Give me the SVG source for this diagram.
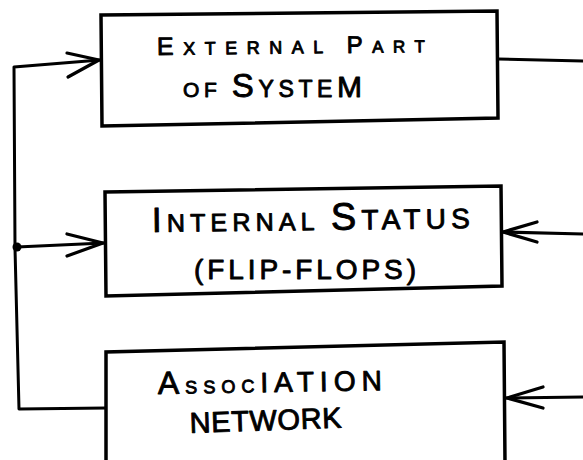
<svg xmlns="http://www.w3.org/2000/svg" width="583" height="460" viewBox="0 0 583 460">
  <style>
    .box { fill: #fff; stroke: #000; stroke-width: 3.5; stroke-linejoin: miter; }
    .wire { fill: none; stroke: #000; stroke-width: 3; stroke-linecap: round; stroke-linejoin: round; }
    .head { fill: none; stroke: #000; stroke-width: 3.2; stroke-linecap: round; stroke-linejoin: round; }
    .lbl { font-family: "Liberation Sans", "DejaVu Sans", sans-serif; fill: #000; stroke: #000; stroke-width: 0.9; stroke-linejoin: round; }
  </style>
  <rect width="583" height="460" fill="#fff"/>

  <!-- connectors: feedback loop on the left, inputs from the right -->
  <g id="connectors">
    <path class="wire" d="M498,59 L583,61"/>
    <path class="wire" d="M100,60 L14,67 L15,248 L19,409 L106,408"/>
    <path class="wire" d="M17,247 L104,243"/>
    <circle cx="17" cy="247" r="4.5" fill="#000"/>
    <path class="head" d="M67,53 L99,60 L68,77"/>
    <path class="head" d="M67,234 L103,243 L67,256"/>
    <path class="wire" d="M583,234 L503,232"/>
    <path class="head" d="M537,222 L503,232 L537,242"/>
    <path class="wire" d="M583,397 L506,398"/>
    <path class="head" d="M543,387 L507,398 L543,408"/>
  </g>

  <g id="external-part">
    <path class="box" d="M101,15 L497,11 L498,118 L102,126 Z"/>
    <text class="lbl" x="157" y="55" textLength="268" lengthAdjust="spacing" transform="rotate(-0.6 157 55)"><tspan font-size="25">E</tspan><tspan font-size="18">XTERNAL </tspan><tspan font-size="24">P</tspan><tspan font-size="17">ART</tspan></text>
    <text class="lbl" x="183" y="97" textLength="179" lengthAdjust="spacing"><tspan font-size="21">OF </tspan><tspan font-size="33">S</tspan><tspan font-size="23">YSTE</tspan><tspan font-size="30">M</tspan></text>
  </g>

  <g id="internal-status">
    <path class="box" d="M105,192 L501,186 L502,286 L106,296 Z"/>
    <text class="lbl" x="152" y="232" textLength="318" lengthAdjust="spacing" transform="rotate(-0.7 152 232)"><tspan font-size="35">I</tspan><tspan font-size="25">NTERNAL </tspan><tspan font-size="38">S</tspan><tspan font-size="28">TATUS</tspan></text>
    <text class="lbl" x="194" y="279" font-size="28" textLength="222" lengthAdjust="spacing">(FLIP-FLOPS)</text>
  </g>

  <g id="association-network">
    <path class="box" d="M106,462 L106,352 L504,342 L505,462"/>
    <text class="lbl" x="158" y="394" textLength="224" lengthAdjust="spacing" transform="rotate(-1 158 394)"><tspan font-size="32">A</tspan><tspan font-size="18">SSOC</tspan><tspan font-size="28">IATION</tspan></text>
    <text class="lbl" x="190" y="433" font-size="29" textLength="152" lengthAdjust="spacing" transform="rotate(-2 190 433)">NETWORK</text>
  </g>
</svg>
